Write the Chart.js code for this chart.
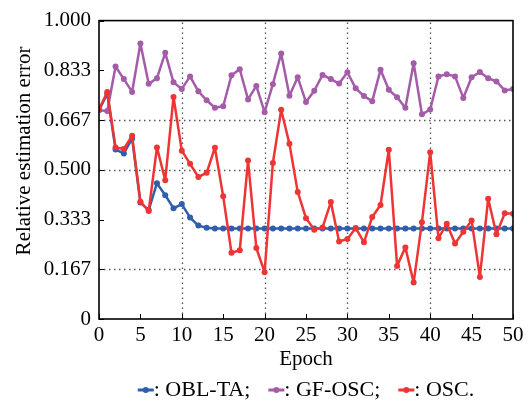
<!DOCTYPE html>
<html>
<head>
<meta charset="utf-8">
<script src="https://cdn.jsdelivr.net/npm/chart.js@4.4.1/dist/chart.umd.min.js"></script>
<style>
  html, body { margin: 0; padding: 0; background: #fff; }
  canvas { display: block; }
</style>
</head>
<body>
<canvas id="myChart" width="529" height="402"></canvas>
<script>
// epochs on the x axis
const epochs = [0, 1, 2, 3, 4, 5, 6, 7, 8, 9, 10, 11, 12, 13, 14, 15, 16, 17, 18, 19, 20,
  21, 22, 23, 24, 25, 26, 27, 28, 29, 30, 31, 32, 33, 34, 35, 36, 37, 38, 39, 40,
  41, 42, 43, 44, 45, 46, 47, 48, 49, 50];

const seriesNames = ["OBL-TA", "GF-OSC", "OSC"];

// values
const oblTa = [0.700, 0.755, 0.568, 0.555, 0.605, 0.390, 0.365, 0.455, 0.415, 0.371,
  0.385, 0.340, 0.313, 0.306, 0.303, 0.303, 0.303, 0.303, 0.303, 0.303,
  0.303, 0.303, 0.303, 0.303, 0.303, 0.303, 0.303, 0.303, 0.303, 0.303,
  0.303, 0.303, 0.303, 0.303, 0.303, 0.303, 0.303, 0.303, 0.303, 0.303,
  0.303, 0.303, 0.303, 0.303, 0.303, 0.303, 0.303, 0.303, 0.303, 0.303, 0.303];

const gfOsc = [0.700, 0.697, 0.846, 0.804, 0.761, 0.923, 0.788, 0.807, 0.892, 0.793,
  0.771, 0.813, 0.763, 0.733, 0.708, 0.713, 0.817, 0.837, 0.736, 0.781,
  0.693, 0.787, 0.890, 0.748, 0.810, 0.727, 0.765, 0.818, 0.804, 0.789,
  0.827, 0.773, 0.747, 0.730, 0.835, 0.768, 0.743, 0.708, 0.857, 0.686,
  0.702, 0.813, 0.820, 0.813, 0.741, 0.810, 0.828, 0.807, 0.796, 0.766, 0.771];

const osc = [0.702, 0.761, 0.575, 0.570, 0.614, 0.393, 0.362, 0.575, 0.465, 0.744,
  0.564, 0.520, 0.476, 0.490, 0.574, 0.411, 0.222, 0.230, 0.531, 0.238,
  0.157, 0.523, 0.701, 0.587, 0.426, 0.338, 0.299, 0.307, 0.392, 0.260,
  0.268, 0.305, 0.257, 0.342, 0.382, 0.567, 0.178, 0.240, 0.122, 0.324,
  0.559, 0.271, 0.319, 0.253, 0.292, 0.330, 0.141, 0.403, 0.284, 0.354, 0.353];

// y axis ticks (sixths) and their printed labels
const yTickValues = [0, 0.1667, 0.3333, 0.5, 0.6667, 0.8333, 1];
const yTickLabels = ["0", "0.167", "0.333", "0.500", "0.667", "0.833", "1.000"];
// only some lines get a dotted grid line in the original
const yGridValues = [0.1667, 0.5, 0.6667];
const xGridValues = [10, 20, 30, 40];

const colors = ["#2f5ead", "#a45ca9", "#ef3434"];
const fontFamily = "'Liberation Serif', 'Times New Roman', serif";

function toPoints(values) {
  return values.map((v, i) => ({ x: epochs[i], y: v }));
}

// dotted grid, frame, inward ticks, y title and legend
const extras = {
  id: "extras",
  beforeDatasetsDraw(chart) {
    const ctx = chart.ctx;
    const area = chart.chartArea;
    const xs = chart.scales.x;
    const ys = chart.scales.y;
    ctx.save();
    ctx.strokeStyle = "#555";
    ctx.lineWidth = 1.3;
    ctx.setLineDash([1.5, 3.5]);
    ctx.beginPath();
    xGridValues.forEach((v) => {
      const px = Math.round(xs.getPixelForValue(v)) + 0.5;
      ctx.moveTo(px, area.bottom);
      ctx.lineTo(px, area.top);
    });
    yGridValues.forEach((v) => {
      const py = Math.round(ys.getPixelForValue(v)) + 0.5;
      ctx.moveTo(area.left, py);
      ctx.lineTo(area.right, py);
    });
    ctx.stroke();
    ctx.restore();
  },
  afterDraw(chart) {
    const ctx = chart.ctx;
    const area = chart.chartArea;
    const xs = chart.scales.x;
    const ys = chart.scales.y;

    ctx.save();
    ctx.strokeStyle = "#000";
    ctx.lineWidth = 1;
    ctx.beginPath();
    xs.ticks.forEach((t) => {
      const px = Math.round(xs.getPixelForValue(t.value)) + 0.5;
      ctx.moveTo(px, area.bottom);
      ctx.lineTo(px, area.bottom - 5);
    });
    ys.ticks.forEach((t) => {
      const py = Math.round(ys.getPixelForValue(t.value)) + 0.5;
      ctx.moveTo(area.left, py);
      ctx.lineTo(area.left + 5, py);
    });
    ctx.stroke();

    ctx.lineWidth = 1.6;
    ctx.strokeRect(area.left, area.top, area.right - area.left, area.bottom - area.top);

    // y axis title
    ctx.fillStyle = "#000";
    ctx.font = "21px " + fontFamily;
    ctx.textAlign = "center";
    ctx.textBaseline = "middle";
    ctx.translate(24, 151);
    ctx.rotate(-Math.PI / 2);
    ctx.fillText("Relative estimation error", 0, 0);
    ctx.restore();

    // legend
    ctx.save();
    ctx.font = "22px " + fontFamily;
    ctx.textBaseline = "middle";
    ctx.textAlign = "left";
    const segLen = 16;
    const gap = 18;
    const texts = seriesNames.map((n, i) => ": " + n + (i < seriesNames.length - 1 ? ";" : "."));
    let total = 0;
    texts.forEach((t, i) => {
      total += segLen + ctx.measureText(t).width + (i < texts.length - 1 ? gap : 0);
    });
    let x = (area.left + area.right) / 2 - total / 2;
    const y = 390;
    texts.forEach((t, i) => {
      ctx.strokeStyle = colors[i];
      ctx.fillStyle = colors[i];
      ctx.lineWidth = 3;
      ctx.beginPath();
      ctx.moveTo(x, y);
      ctx.lineTo(x + segLen, y);
      ctx.stroke();
      ctx.beginPath();
      ctx.arc(x + segLen / 2, y, 3, 0, Math.PI * 2);
      ctx.fill();
      x += segLen;
      ctx.fillStyle = "#000";
      ctx.fillText(t, x, y);
      x += ctx.measureText(t).width + gap;
    });
    ctx.restore();
  },
};

const myChart = new Chart(document.getElementById("myChart"), {
  type: "line",
  data: {
    datasets: [
      { label: seriesNames[0], data: toPoints(oblTa), order: 3 },
      { label: seriesNames[1], data: toPoints(gfOsc), order: 2 },
      { label: seriesNames[2], data: toPoints(osc), order: 1 },
    ].map((ds, i) => Object.assign(ds, {
      borderColor: colors[i],
      backgroundColor: colors[i],
      borderWidth: 2.5,
      borderJoinStyle: "round",
      pointRadius: 3,
      pointBorderWidth: 0,
      tension: 0,
      fill: false,
    })),
  },
  options: {
    responsive: false,
    animation: false,
    layout: { padding: { left: 0, right: 16, top: 17, bottom: 30 } },
    plugins: {
      legend: { display: false },
      tooltip: { enabled: false },
    },
    scales: {
      x: {
        type: "linear",
        min: 0,
        max: 50,
        ticks: {
          stepSize: 5,
          padding: 4,
          maxRotation: 0,
          color: "#000",
          font: { family: fontFamily, size: 21 },
        },
        grid: { display: false, drawTicks: false },
        border: { display: false },
        title: {
          display: true,
          text: "Epoch",
          color: "#000",
          font: { family: fontFamily, size: 21 },
          padding: { top: 0, bottom: 0 },
        },
        afterFit: (s) => { s.height = 53; },
      },
      y: {
        min: 0,
        max: 1,
        afterBuildTicks: (s) => { s.ticks = yTickValues.map((v) => ({ value: v })); },
        ticks: {
          padding: 8,
          color: "#000",
          font: { family: fontFamily, size: 21 },
          callback: (v, i) => yTickLabels[i],
        },
        grid: { display: false, drawTicks: false },
        border: { display: false },
        afterFit: (s) => { s.width = 99; },
      },
    },
  },
  plugins: [extras],
});
</script>
</body>
</html>
